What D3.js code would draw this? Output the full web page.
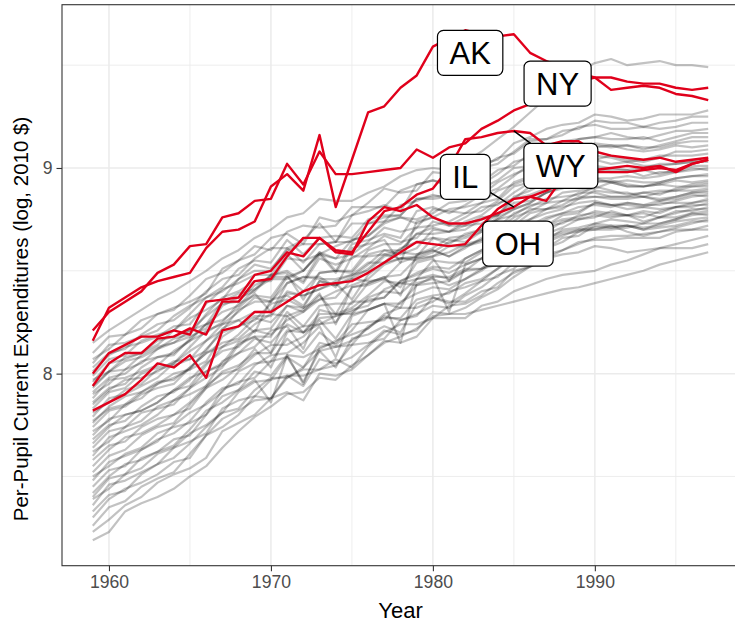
<!DOCTYPE html>
<html>
<head>
<meta charset="utf-8">
<script src="https://cdn.jsdelivr.net/npm/d3@7/dist/d3.min.js"></script>
<style>
body{margin:0;background:#fff;}
.canvas{width:735px;height:626px;overflow:hidden;}
text{font-family:"Liberation Sans",Arial,Helvetica,sans-serif;}
</style>
</head>
<body>
<div class="canvas" id="canvas"></div>
<script>
//data: log per-pupil current expenditures, 1959-1997
var years = [1959,1960,1961,1962,1963,1964,1965,1966,1967,1968,1969,1970,1971,1972,1973,1974,1975,1976,1977,1978,
    1979,1980,1981,1982,1983,1984,1985,1986,1987,1988,1989,1990,1991,1992,1993,1994,1995,1996,1997];

var akValues = [8.16,8.32,8.37,8.42,8.45,8.47,8.49,8.61,8.69,8.70,8.74,8.91,8.97,8.89,9.16,8.81,9.04,9.27,9.30,9.39,
    9.45,9.59,9.63,9.67,9.65,9.64,9.65,9.56,9.52,9.49,9.46,9.44,9.38,9.39,9.40,9.39,9.36,9.35,9.33];
var nyValues = [8.21,8.30,8.35,8.40,8.49,8.53,8.62,8.63,8.76,8.78,8.84,8.85,9.02,8.92,9.08,8.97,8.97,8.98,8.99,9.00,
    9.09,9.05,9.10,9.12,9.19,9.23,9.28,9.31,9.35,9.39,9.42,9.44,9.44,9.42,9.41,9.41,9.39,9.38,9.39];
var wyValues = [7.94,8.05,8.10,8.10,8.17,8.18,8.22,8.19,8.35,8.35,8.45,8.46,8.57,8.66,8.66,8.60,8.59,8.69,8.79,8.81,
    8.87,8.90,9.00,9.14,9.15,9.17,9.18,9.17,9.11,9.13,9.13,9.08,9.06,9.05,9.04,9.05,9.03,9.04,9.05];
var ilValues = [8.00,8.10,8.14,8.18,8.18,8.21,8.19,8.35,8.36,8.37,8.48,8.50,8.59,8.57,8.66,8.59,8.58,8.74,8.81,8.79,
    8.82,8.76,8.73,8.73,8.75,8.78,8.81,8.86,8.89,8.93,8.97,8.99,9.00,9.01,9.00,9.01,8.98,9.02,9.04];
var ohValues = [7.82,7.86,7.90,7.97,8.05,8.03,8.09,7.98,8.21,8.23,8.30,8.30,8.35,8.40,8.43,8.44,8.45,8.49,8.54,8.59,
    8.64,8.63,8.62,8.63,8.72,8.80,8.85,8.86,8.84,8.95,9.00,8.98,8.98,8.98,8.99,9.00,8.99,9.02,9.04];

var otherStateValues = [
    [8.15,8.21,8.26,8.31,8.36,8.40,8.45,8.50,8.56,8.60,8.66,8.70,8.76,8.78,8.85,8.84,8.84,8.88,8.91,8.96,8.99,9.00,8.99,9.03,9.08,9.14,9.20,9.27,9.34,9.40,9.47,9.51,9.53,9.50,9.51,9.52,9.50,9.50,9.49],
    [8.10,8.18,8.19,8.26,8.29,8.31,8.38,8.46,8.49,8.55,8.62,8.60,8.69,8.72,8.71,8.72,8.81,8.81,8.81,8.89,8.92,8.94,8.92,8.97,9.00,9.05,9.07,9.13,9.14,9.16,9.20,9.21,9.19,9.19,9.20,9.19,9.20,9.22,9.22],
    [8.07,8.12,8.19,8.22,8.29,8.32,8.35,8.39,8.51,8.55,8.58,8.66,8.68,8.63,8.76,8.74,8.77,8.83,8.90,8.88,8.89,8.98,8.97,8.97,9.02,9.04,9.12,9.15,9.19,9.21,9.22,9.26,9.25,9.23,9.24,9.26,9.26,9.26,9.28],
    [8.05,8.14,8.15,8.18,8.21,8.28,8.33,8.37,8.42,8.51,8.55,8.54,8.65,8.58,8.66,8.67,8.66,8.75,8.77,8.77,8.85,8.85,8.86,8.89,8.90,8.94,9.00,9.01,9.05,9.09,9.09,9.10,9.11,9.09,9.08,9.09,9.11,9.10,9.11],
    [8.03,8.10,8.12,8.19,8.24,8.26,8.32,8.40,8.46,8.48,8.56,8.61,8.61,8.65,8.73,8.64,8.77,8.79,8.82,8.79,8.92,8.94,8.91,8.95,9.00,9.02,9.08,9.14,9.14,9.18,9.19,9.23,9.22,9.22,9.20,9.22,9.23,9.25,9.25],
    [8.01,8.09,8.13,8.15,8.18,8.23,8.24,8.34,8.41,8.44,8.48,8.48,8.58,8.50,8.59,8.56,8.65,8.67,8.73,8.76,8.73,8.76,8.80,8.81,8.83,8.89,8.92,8.95,8.99,9.01,9.03,9.04,9.02,9.03,9.01,9.01,9.02,9.03,9.03],
    [7.99,8.07,8.09,8.16,8.19,8.21,8.29,8.37,8.40,8.46,8.53,8.51,8.60,8.63,8.63,8.64,8.73,8.73,8.74,8.82,8.84,8.87,8.85,8.90,8.93,8.99,9.01,9.07,9.09,9.10,9.14,9.15,9.14,9.14,9.15,9.13,9.15,9.17,9.17],
    [7.97,8.01,8.08,8.10,8.16,8.18,8.21,8.24,8.35,8.39,8.41,8.48,8.49,8.44,8.56,8.53,8.56,8.61,8.67,8.64,8.66,8.74,8.72,8.72,8.76,8.77,8.85,8.87,8.90,8.91,8.92,8.95,8.93,8.91,8.91,8.92,8.91,8.91,8.92],
    [7.96,8.05,8.07,8.10,8.14,8.21,8.27,8.31,8.36,8.46,8.50,8.50,8.61,8.54,8.63,8.64,8.64,8.73,8.76,8.77,8.85,8.86,8.87,8.91,8.92,8.97,9.03,9.05,9.09,9.13,9.14,9.15,9.17,9.15,9.14,9.16,9.18,9.18,9.19],
    [7.94,8.01,8.02,8.09,8.13,8.15,8.21,8.28,8.34,8.35,8.43,8.47,8.47,8.50,8.58,8.49,8.61,8.63,8.65,8.54,8.74,8.76,8.72,8.76,8.81,8.82,8.88,8.93,8.93,8.96,8.97,9.00,8.99,8.99,8.96,8.98,8.98,9.00,8.99],
    [7.93,8.01,8.06,8.08,8.12,8.17,8.19,8.29,8.37,8.40,8.45,8.45,8.56,8.55,8.58,8.62,8.65,8.67,8.74,8.76,8.75,8.78,8.83,8.84,8.87,8.93,8.97,9.00,9.05,9.07,9.10,9.11,9.10,9.11,9.10,9.10,9.12,9.13,9.13],
    [7.91,7.98,8.00,8.06,8.08,8.09,8.17,8.24,8.26,8.32,8.39,8.30,8.44,8.47,8.46,8.46,8.48,8.54,8.54,8.61,8.64,8.66,8.63,8.68,8.70,8.75,8.77,8.82,8.83,8.84,8.88,8.88,8.86,8.86,8.86,8.84,8.85,8.87,8.86],
    [7.90,7.95,8.02,8.05,8.12,8.15,8.18,8.22,8.33,8.37,8.40,8.48,8.50,8.45,8.58,8.56,8.58,8.64,8.71,8.69,8.71,8.80,8.79,8.78,8.83,8.85,8.93,8.96,9.00,9.02,9.03,9.06,9.05,9.03,9.04,9.06,9.06,9.06,9.07],
    [7.88,7.97,7.98,8.01,8.04,8.11,8.16,8.20,8.25,8.34,8.38,8.37,8.48,8.36,8.49,8.50,8.49,8.58,8.60,8.60,8.68,8.68,8.69,8.72,8.73,8.77,8.83,8.84,8.88,8.92,8.92,8.93,8.94,8.92,8.91,8.92,8.94,8.93,8.94],
    [7.86,7.93,7.95,8.03,8.08,8.10,8.16,8.24,8.30,8.33,8.41,8.46,8.46,8.50,8.59,8.50,8.63,8.65,8.68,8.66,8.79,8.81,8.78,8.82,8.87,8.90,8.96,9.02,9.02,9.06,9.08,9.12,9.11,9.11,9.09,9.11,9.13,9.15,9.15],
    [7.85,7.92,7.97,7.98,8.01,8.06,8.07,8.16,8.24,8.26,8.30,8.30,8.40,8.38,8.41,8.44,8.36,8.48,8.54,8.56,8.55,8.57,8.62,8.62,8.64,8.70,8.73,8.75,8.80,8.81,8.83,8.84,8.82,8.82,8.81,8.80,8.81,8.82,8.82],
    [7.83,7.91,7.93,8.00,8.03,8.05,8.13,8.21,8.24,8.30,8.37,8.35,8.44,8.47,8.47,8.42,8.57,8.57,8.58,8.60,8.68,8.71,8.69,8.74,8.77,8.83,8.85,8.91,8.93,8.94,8.98,8.99,8.98,8.98,8.99,8.97,8.99,9.01,9.01],
    [7.81,7.86,7.92,7.95,8.02,8.04,8.07,8.11,8.22,8.26,8.20,8.36,8.38,8.33,8.45,8.43,8.46,8.51,8.58,8.56,8.57,8.66,8.65,8.64,8.69,8.71,8.78,8.81,8.85,8.86,8.87,8.91,8.89,8.87,8.88,8.89,8.89,8.89,8.90],
    [7.79,7.88,7.90,7.94,7.98,8.05,8.11,8.16,8.21,8.31,8.35,8.35,8.47,8.40,8.49,8.50,8.50,8.60,8.63,8.63,8.71,8.72,8.74,8.78,8.79,8.84,8.91,8.93,8.97,9.01,9.02,9.04,9.06,9.04,9.03,9.05,9.08,9.08,9.09],
    [7.77,7.83,7.85,7.91,7.96,7.97,8.03,8.10,8.15,8.17,8.24,8.29,8.28,8.31,8.39,8.24,8.42,8.43,8.46,8.42,8.54,8.56,8.45,8.56,8.60,8.62,8.67,8.72,8.72,8.75,8.76,8.79,8.78,8.77,8.74,8.76,8.76,8.78,8.77],
    [7.76,7.84,7.89,7.91,7.95,8.00,8.02,8.12,8.20,8.23,8.28,8.28,8.39,8.38,8.41,8.45,8.48,8.50,8.57,8.59,8.58,8.61,8.66,8.67,8.70,8.76,8.80,8.83,8.88,8.90,8.93,8.94,8.93,8.94,8.93,8.93,8.95,8.96,8.96],
    [7.74,7.82,7.84,7.90,7.93,7.95,8.03,8.10,8.13,8.19,8.27,8.25,8.33,8.30,8.36,8.37,8.46,8.45,8.46,8.54,8.57,8.60,8.57,8.62,8.65,8.71,8.72,8.78,8.80,8.82,8.86,8.86,8.85,8.85,8.86,8.85,8.86,8.88,8.88],
    [7.72,7.77,7.85,7.88,7.95,7.98,8.02,8.06,8.18,8.23,8.26,8.34,8.36,8.32,8.45,8.43,8.47,8.53,8.60,8.58,8.61,8.70,8.69,8.70,8.75,8.77,8.86,8.89,8.93,8.95,8.97,9.01,9.00,8.99,9.00,9.02,9.02,9.03,9.05],
    [7.70,7.78,7.80,7.82,7.86,7.92,7.98,8.01,8.05,8.15,8.18,8.10,8.28,8.20,8.29,8.29,8.29,8.37,8.40,8.39,8.46,8.47,8.47,8.51,8.51,8.56,8.61,8.62,8.66,8.69,8.70,8.70,8.72,8.69,8.67,8.69,8.70,8.70,8.70],
    [7.68,7.75,7.77,7.84,7.89,7.91,7.97,8.05,8.11,8.13,8.21,8.19,8.26,8.30,8.38,8.29,8.42,8.44,8.47,8.38,8.58,8.60,8.57,8.61,8.66,8.68,8.74,8.80,8.80,8.84,8.85,8.89,8.88,8.88,8.86,8.88,8.89,8.91,8.91],
    [7.66,7.74,7.80,7.82,7.86,7.92,7.94,8.04,8.13,8.16,8.21,8.22,8.33,8.32,8.36,8.40,8.43,8.46,8.53,8.56,8.56,8.59,8.64,8.66,8.69,8.75,8.80,8.83,8.88,8.91,8.94,8.95,8.95,8.96,8.95,8.96,8.98,8.99,9.00],
    [7.64,7.72,7.74,7.81,7.83,7.85,7.93,8.01,8.04,8.10,8.17,8.15,8.24,8.20,8.27,8.28,8.30,8.36,8.37,8.45,8.48,8.51,8.49,8.53,8.56,8.62,8.64,8.70,8.72,8.73,8.77,8.78,8.77,8.77,8.78,8.76,8.78,8.80,8.80],
    [7.62,7.67,7.74,7.77,7.84,7.87,7.90,7.94,8.06,8.10,8.13,8.21,8.23,8.12,8.31,8.29,8.32,8.38,8.45,8.44,8.46,8.55,8.54,8.54,8.59,8.61,8.69,8.72,8.76,8.78,8.79,8.83,8.82,8.80,8.81,8.83,8.83,8.83,8.85],
    [7.60,7.69,7.72,7.75,7.80,7.87,7.93,7.98,8.03,8.14,8.18,8.18,8.30,8.23,8.33,8.34,8.34,8.44,8.47,8.48,8.56,8.57,8.59,8.63,8.65,8.70,8.76,8.79,8.83,8.88,8.89,8.90,8.93,8.91,8.91,8.93,8.95,8.96,8.97],
    [7.58,7.65,7.67,7.74,7.78,7.80,7.86,7.94,8.00,8.02,8.09,8.14,8.14,8.18,8.26,8.17,8.29,8.31,8.34,8.15,8.44,8.46,8.43,8.46,8.51,8.53,8.59,8.65,8.65,8.68,8.69,8.73,8.72,8.72,8.70,8.71,8.72,8.74,8.74],
    [7.55,7.63,7.69,7.71,7.75,7.80,7.83,7.93,8.01,8.04,8.10,8.10,8.21,8.20,8.24,8.28,8.31,8.33,8.41,8.44,8.43,8.47,8.30,8.53,8.56,8.63,8.67,8.70,8.75,8.78,8.81,8.82,8.81,8.83,8.82,8.82,8.84,8.86,8.87],
    [7.52,7.60,7.63,7.70,7.74,7.76,7.85,7.93,7.97,8.03,8.12,8.03,8.20,8.23,8.24,8.25,8.35,8.35,8.37,8.45,8.49,8.52,8.51,8.56,8.60,8.66,8.69,8.75,8.78,8.80,8.85,8.86,8.86,8.86,8.88,8.87,8.90,8.92,8.93],
    [7.50,7.55,7.61,7.64,7.71,7.74,7.76,7.80,7.92,7.96,7.98,8.06,8.08,8.03,8.15,8.13,8.16,8.22,8.28,8.26,8.28,8.37,8.35,8.35,8.40,8.42,8.50,8.52,8.56,8.58,8.59,8.62,8.61,8.59,8.60,8.61,8.61,8.61,8.63],
    [7.48,7.57,7.60,7.63,7.67,7.75,7.81,7.85,7.91,8.01,8.05,8.06,8.17,8.10,8.20,8.14,8.21,8.31,8.34,8.34,8.43,8.44,8.45,8.50,8.51,8.56,8.63,8.65,8.69,8.74,8.75,8.76,8.79,8.77,8.76,8.79,8.81,8.81,8.83],
    [7.45,7.53,7.55,7.63,7.68,7.71,7.77,7.86,7.93,7.95,8.04,8.09,8.10,8.15,8.23,8.08,8.28,8.31,8.34,8.32,8.46,8.48,8.46,8.50,8.56,8.58,8.65,8.72,8.72,8.77,8.78,8.83,8.82,8.83,8.82,8.84,8.86,8.88,8.89],
    [7.42,7.50,7.56,7.58,7.62,7.68,7.70,7.80,7.89,7.92,7.97,7.86,8.09,8.08,8.12,8.16,8.19,8.22,8.29,8.32,8.32,8.35,8.40,8.42,8.45,8.51,8.56,8.59,8.64,8.67,8.70,8.71,8.71,8.72,8.71,8.72,8.74,8.75,8.76],
    [7.40,7.49,7.51,7.59,7.62,7.65,7.73,7.82,7.86,7.92,8.01,7.99,8.09,7.95,8.13,8.15,8.24,8.25,8.26,8.35,8.39,8.42,8.41,8.46,8.50,8.56,8.59,8.66,8.68,8.71,8.75,8.77,8.76,8.77,8.79,8.78,8.81,8.83,8.84],
    [7.39,7.44,7.51,7.54,7.61,7.64,7.67,7.71,7.83,7.87,7.89,7.97,7.99,7.94,8.07,8.05,8.08,8.14,8.21,8.19,8.21,8.30,8.29,8.29,8.31,8.33,8.35,8.37,8.39,8.41,8.42,8.44,8.46,8.48,8.50,8.53,8.55,8.57,8.59],
    [7.36,7.46,7.48,7.52,7.56,7.64,7.71,7.75,7.81,7.91,7.96,7.97,8.08,7.96,8.11,8.13,8.14,8.23,8.27,8.27,8.36,8.38,8.39,8.44,8.46,8.51,8.58,8.60,8.65,8.70,8.71,8.73,8.75,8.74,8.73,8.76,8.79,8.79,8.81],
    [7.33,7.41,7.43,7.51,7.56,7.59,7.66,7.74,7.81,7.83,7.92,7.98,7.98,8.03,8.11,8.03,8.17,8.19,8.23,8.20,8.34,8.37,8.34,8.39,8.45,8.47,8.54,8.60,8.61,8.66,8.67,8.72,8.71,8.72,8.70,8.73,8.75,8.77,8.78],
    [7.30,7.39,7.44,7.47,7.51,7.57,7.59,7.70,7.78,7.82,7.87,7.88,7.99,7.99,8.02,8.07,8.03,8.13,8.20,8.24,8.24,8.27,8.33,8.34,8.38,8.44,8.49,8.52,8.58,8.60,8.64,8.65,8.65,8.66,8.66,8.66,8.69,8.70,8.72],
    [7.26,7.35,7.38,7.45,7.49,7.52,7.61,7.70,7.74,7.80,7.89,7.88,7.98,8.02,8.02,8.04,8.14,8.15,8.17,8.26,8.29,8.33,8.32,8.38,8.42,8.48,8.51,8.58,8.61,8.64,8.69,8.70,8.70,8.71,8.73,8.73,8.75,8.78,8.79],
    [7.23,7.29,7.36,7.40,7.47,7.51,7.54,7.59,7.72,7.76,7.80,7.88,7.91,7.87,8.00,7.99,8.02,8.09,8.16,8.15,8.18,8.27,8.27,8.27,8.33,8.35,8.40,8.43,8.46,8.48,8.49,8.50,8.53,8.55,8.58,8.61,8.63,8.65,8.67],
    [7.19,7.23,7.33,7.37,7.40,7.44,7.50,7.55,7.64,7.72,7.79,7.84,7.90,7.91,7.98,7.97,8.04,8.09,8.15,8.18,8.22,8.28,8.29,8.32,8.37,8.41,8.47,8.52,8.56,8.60,8.63,8.66,8.67,8.67,8.68,8.69,8.71,8.73,8.75]
];

//highlighted states and where their labels sit
var labelStates = ['AK','NY','WY','IL','OH'];
var labelValues = [akValues, nyValues, wyValues, ilValues, ohValues];
var labelPointYears = [1982, 1987, 1985, 1985, 1983];
var labelBoxYears = [1982.3, 1987.7, 1987.9, 1982.0, 1985.25];
var labelBoxValues = [9.56, 9.41, 9.01, 8.957, 8.632];

//axis ticks
var xTicks = [1960,1970,1980,1990], xMinorTicks = [1965,1975,1985,1995];
var yTicks = [8,9], yMinorTicks = [7.5,8.5,9.5];

//margin convention (panel runs past the right edge of the picture)
var m = {t:4.7,r:-4,b:60.3,l:62};
var outerWidth = 735,
    outerHeight = 626;
var w = outerWidth - m.l - m.r,
    h = outerHeight - m.t - m.b;

var svg = d3.select('.canvas')
    .append('svg')
    .attr('width',outerWidth)
    .attr('height',outerHeight);

var plot = svg.append('g')
    .attr('transform','translate(' + m.l + ',' + m.t + ')');

//scales with ggplot's 5% expansion
var allValues = d3.merge(otherStateValues.concat(labelValues));
var yExtent = d3.extent(allValues),
    yPad = (yExtent[1]-yExtent[0])*0.05,
    xPad = (years[years.length-1]-years[0])*0.05;

var scaleX = d3.scaleLinear()
    .domain([years[0]-xPad, years[years.length-1]+xPad])
    .range([0,w]);
var scaleY = d3.scaleLinear()
    .domain([yExtent[0]-yPad, yExtent[1]+yPad])
    .range([h,0]);

//grid
var grid = plot.append('g').attr('class','grid');
grid.selectAll('.minor-x').data(xMinorTicks).enter().append('line')
    .attr('x1',function(d){return scaleX(d)}).attr('x2',function(d){return scaleX(d)})
    .attr('y1',0).attr('y2',h)
    .style('stroke','#ebebeb').style('stroke-width',0.9);
grid.selectAll('.minor-y').data(yMinorTicks).enter().append('line')
    .attr('y1',function(d){return scaleY(d)}).attr('y2',function(d){return scaleY(d)})
    .attr('x1',0).attr('x2',w)
    .style('stroke','#ebebeb').style('stroke-width',0.9);
grid.selectAll('.major-x').data(xTicks).enter().append('line')
    .attr('x1',function(d){return scaleX(d)}).attr('x2',function(d){return scaleX(d)})
    .attr('y1',0).attr('y2',h)
    .style('stroke','#ebebeb').style('stroke-width',1.5);
grid.selectAll('.major-y').data(yTicks).enter().append('line')
    .attr('y1',function(d){return scaleY(d)}).attr('y2',function(d){return scaleY(d)})
    .attr('x1',0).attr('x2',w)
    .style('stroke','#ebebeb').style('stroke-width',1.5);

//lines
var line = d3.line()
    .x(function(d,i){return scaleX(years[i])})
    .y(function(d){return scaleY(d)});

plot.selectAll('.state').data(otherStateValues).enter()
    .append('path')
    .attr('class','state')
    .attr('d',line)
    .style('fill','none')
    .style('stroke','#000')
    .style('stroke-opacity',0.24)
    .style('stroke-width',2.2)
    .style('stroke-linejoin','round');

plot.selectAll('.highlight').data(labelValues).enter()
    .append('path')
    .attr('class','highlight')
    .attr('d',line)
    .style('fill','none')
    .style('stroke','#e0001b')
    .style('stroke-width',2.4)
    .style('stroke-linejoin','round');

//panel border
plot.append('rect')
    .attr('width',w).attr('height',h)
    .style('fill','none').style('stroke','#333').style('stroke-width',1.1);

//axes
var axisX = d3.axisBottom().scale(scaleX)
    .tickValues(xTicks).tickFormat(d3.format('d'))
    .tickSize(5.5).tickPadding(4);
var axisY = d3.axisLeft().scale(scaleY)
    .tickValues(yTicks).tickFormat(d3.format('d'))
    .tickSize(5.5).tickPadding(4);

plot.append('g')
    .attr('class','axis axis-x')
    .attr('transform','translate(0,' + h + ')')
    .call(axisX);
plot.append('g')
    .attr('class','axis axis-y')
    .call(axisY);

plot.selectAll('.axis .domain').remove();
plot.selectAll('.axis line').style('stroke','#333').style('stroke-width',1.1);
plot.selectAll('.axis text')
    .style('font-size','17.6px')
    .style('fill','#4d4d4d')
    .style('font-family','"Liberation Sans",Arial,sans-serif');

//axis titles
svg.append('text')
    .attr('x',m.l + w/2)
    .attr('y',618)
    .attr('text-anchor','middle')
    .style('font-size','22px')
    .text('Year');
svg.append('text')
    .attr('transform','translate(28,319) rotate(-90)')
    .attr('text-anchor','middle')
    .style('font-size','20.5px')
    .text('Per-Pupil Current Expenditures (log, 2010 $)');

//labels, repelled boxes with a leader segment where the box sits away from its point
var fs = 31, padX = 12, boxH = 45;
labelStates.forEach(function(name,i){
    var yi = years.indexOf(labelPointYears[i]);
    var px = scaleX(labelPointYears[i]),
        py = scaleY(labelValues[i][yi]);
    var cx = scaleX(labelBoxYears[i]),
        cy = scaleY(labelBoxValues[i]);

    var g = plot.append('g').attr('class','label');
    var seg = g.append('line');
    var rect = g.append('rect');
    var t = g.append('text')
        .attr('x',cx)
        .attr('y',cy + fs*0.36)
        .attr('text-anchor','middle')
        .style('font-size',fs + 'px')
        .style('fill','#000')
        .text(name);
    var bw = t.node().getComputedTextLength() + 2*padX;
    var b = {x0:cx-bw/2, x1:cx+bw/2, y0:cy-boxH/2, y1:cy+boxH/2};
    rect.attr('x',b.x0).attr('y',b.y0)
        .attr('width',bw).attr('height',boxH)
        .attr('rx',6).attr('ry',6)
        .style('fill','#fff').style('stroke','#000').style('stroke-width',1.2);

    //where the line from box centre to point leaves the box
    var dx = px-cx, dy = py-cy;
    var tx = dx !== 0 ? ((dx>0?b.x1:b.x0)-cx)/dx : Infinity;
    var ty = dy !== 0 ? ((dy>0?b.y1:b.y0)-cy)/dy : Infinity;
    var tt = Math.min(tx,ty);
    var ex = cx+dx*tt, ey = cy+dy*tt;
    if (tt < 1 && Math.hypot(px-ex,py-ey) > 8){
        seg.attr('x1',ex).attr('y1',ey).attr('x2',px).attr('y2',py)
            .style('stroke','#000').style('stroke-width',1.6);
    } else {
        seg.remove();
    }
});
</script>
</body>
</html>
